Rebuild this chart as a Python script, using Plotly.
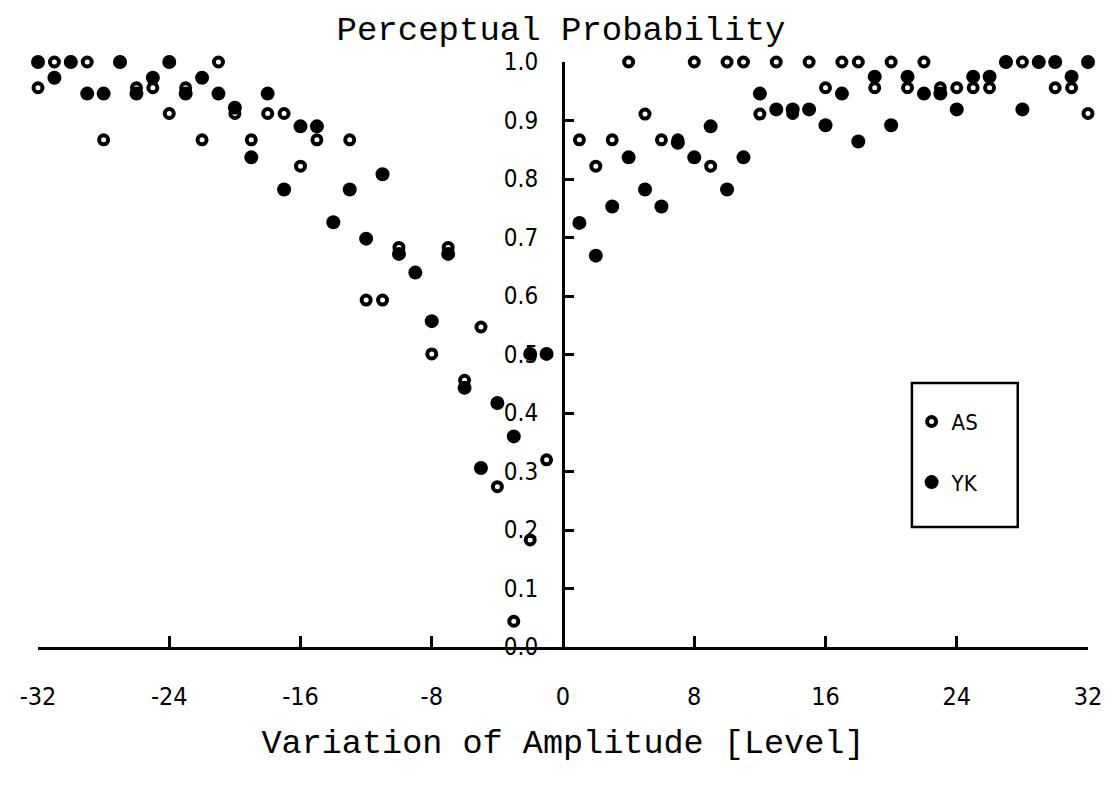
import plotly.graph_objects as go

# Variation of amplitude levels (x) and perceptual probabilities
levels = [-32, -31, -30, -29, -28, -27, -26, -25, -24, -23, -22, -21, -20, -19, -18, -17,
          -16, -15, -14, -13, -12, -11, -10, -9, -8, -7, -6, -5, -4, -3, -2, -1,
          1, 2, 3, 4, 5, 6, 7, 8, 9, 10, 11, 12, 13, 14, 15, 16,
          17, 18, 19, 20, 21, 22, 23, 24, 25, 26, 27, 28, 29, 30, 31, 32]

as_values = [0.956, 1.0, 1.0, 1.0, 0.867, 1.0, 0.956, 0.956, 0.912, 0.956, 0.867, 1.0, 0.912, 0.867, 0.912, 0.912,
             0.822, 0.867, None, 0.867, 0.593, 0.593, 0.683, None, 0.501, 0.683, 0.456, 0.547, 0.274, 0.044, 0.183, 0.320,
             0.867, 0.822, 0.867, 1.0, 0.911, 0.867, 0.867, 1.0, 0.822, 1.0, 1.0, 0.911, 1.0, 0.912, 1.0, 0.956,
             1.0, 1.0, 0.956, 1.0, 0.956, 1.0, 0.956, 0.956, 0.956, 0.956, 1.0, 1.0, 1.0, 0.956, 0.956, 0.912]

yk_values = [1.0, 0.973, 1.0, 0.946, 0.946, 1.0, 0.946, 0.973, 1.0, 0.946, 0.973, 0.946, 0.922, 0.837, 0.946, 0.782,
             0.890, 0.890, 0.726, 0.782, 0.698, 0.808, 0.672, 0.640, 0.557, 0.672, 0.443, 0.306, 0.417, 0.360, 0.501, 0.501,
             0.725, 0.669, 0.753, 0.837, 0.782, 0.753, 0.862, 0.837, 0.890, 0.782, 0.837, 0.946, 0.919, 0.919, 0.919, 0.892,
             0.946, 0.864, 0.975, 0.892, 0.975, 0.946, 0.946, 0.919, 0.975, 0.975, 1.0, 0.919, 1.0, 1.0, 0.975, 1.0]

x_ticks = [-32, -24, -16, -8, 0, 8, 16, 24, 32]
x_tick_labels = ["-32", "-24", "-16", "-8", "0", "8", "16", "24", "32"]
y_ticks = [0.0, 0.1, 0.2, 0.3, 0.4, 0.5, 0.6, 0.7, 0.8, 0.9, 1.0]
y_tick_labels = ["0.0", "0.1", "0.2", "0.3", "0.4", "0.5", "0.6", "0.7", "0.8", "0.9", "1.0"]

mono = "Liberation Mono, Courier New, monospace"
sans = "DejaVu Sans Condensed, DejaVu Sans, Liberation Sans, Arial, sans-serif"

fig = go.Figure()
fig.add_trace(go.Scatter(
    x=levels, y=as_values, mode="markers", name="AS", legendgroup="as",
    marker=dict(symbol="circle", size=9, color="white", line=dict(color="black", width=4)),
    cliponaxis=False,
))
fig.add_trace(go.Scatter(
    x=levels, y=yk_values, mode="markers", name="YK", legendgroup="yk",
    marker=dict(symbol="circle", size=14, color="black", line=dict(width=0)),
    cliponaxis=False,
))

fig.update_layout(
    width=1106, height=780,
    margin=dict(l=27, r=17, t=54, b=141),
    paper_bgcolor="white", plot_bgcolor="white",
    title=dict(text="Perceptual Probability", x=0.5, xanchor="center",
               y=1 - 20 / 780, yref="container", yanchor="middle", pad=dict(t=0, b=0),
               font=dict(family=mono, size=34, color="black")),
    xaxis=dict(range=[-32, 32], tickvals=x_ticks, ticktext=x_tick_labels, ticks="inside",
               ticklen=11, tickwidth=2.5,
               tickcolor="black", showline=True, linewidth=3, linecolor="black",
               showgrid=False, zeroline=False, ticklabelstandoff=25,
               tickfont=dict(family=sans, size=25, color="black"),
               title=dict(text="Variation of Amplitude [Level]", standoff=20,
                          font=dict(family=mono, size=33.5, color="black"))),
    yaxis=dict(range=[0, 1.0], tickvals=y_ticks, ticktext=y_tick_labels, ticks="inside",
               ticklen=9, tickwidth=2.5, tickcolor="black", showline=True, linewidth=3,
               linecolor="black", showgrid=False, zeroline=False, anchor="free", position=0.5,
               ticklabelstandoff=19, tickfont=dict(family=sans, size=24, color="black")),
    showlegend=True,
    legend=dict(x=0.832, y=0.421, xanchor="left", yanchor="top", bgcolor="rgba(0,0,0,0)",
                borderwidth=0, tracegroupgap=29,
                font=dict(family=sans, size=22, color="black")),
    shapes=[dict(type="rect", xref="paper", yref="paper", x0=0.8323, x1=0.9331, y0=0.2051, y1=0.4513,
                 line=dict(color="black", width=2.5), fillcolor="rgba(0,0,0,0)")],
)

fig.write_html("out.html")
